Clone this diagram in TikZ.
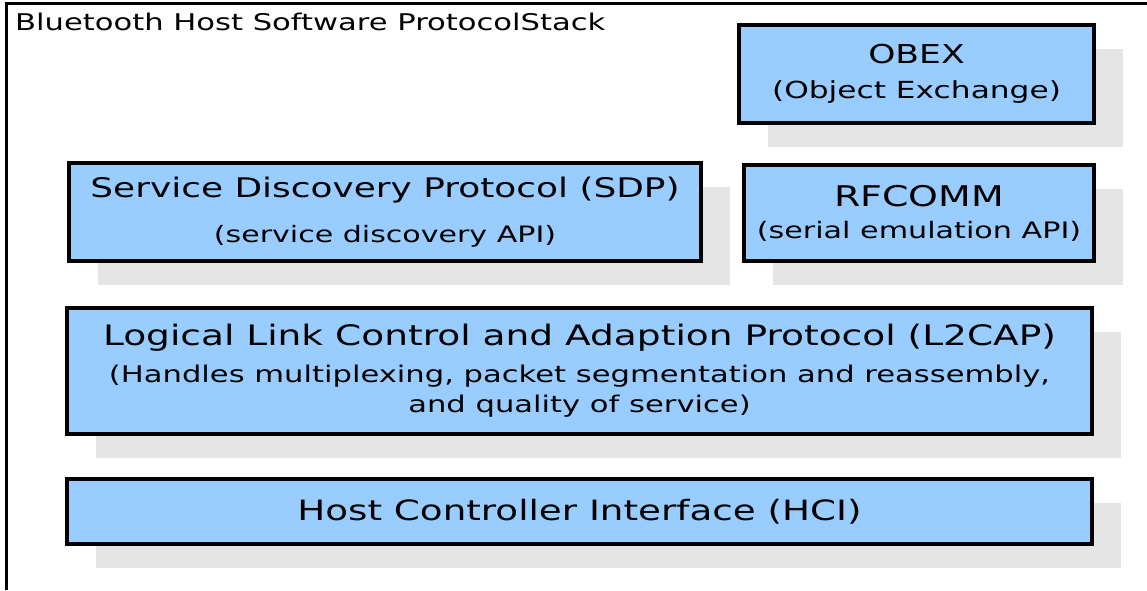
\documentclass[tikz,border=0pt]{standalone}
\usepackage{fontspec}
\setmainfont{DejaVu Sans}[FakeStretch=1.33]
\usetikzlibrary{shadows}
\definecolor{layerblue}{RGB}{153,204,255}
\definecolor{shadegray}{RGB}{229,229,229}

\begin{document}
\begin{tikzpicture}[x=1pt, y=-1pt,
  layer/.style={draw=black, line width=3.5pt, fill=layerblue, inner sep=0pt,
    align=center,
    drop shadow={shadow xshift=28.5pt, shadow yshift=-24pt, opacity=1, fill=shadegray}}]
  \useasboundingbox (0,0) rectangle (1147,590);
  % the frame
  \draw[line width=3pt] (6,590) -- (6,3.5) -- (1147,3.5);
  \node[anchor=base west, inner sep=0pt, font=\fontsize{23}{23}\selectfont] (title) at (15,30)
    {Bluetooth Host Software ProtocolStack};
  % the upper layers
  \node[layer, minimum width=355pt, minimum height=98pt, font=\fontsize{26}{35}\selectfont]
    (obex) at (916.5,74) {OBEX\\{\fontsize{23.5}{35}\selectfont (Object Exchange)}};
  \node[layer, minimum width=632pt, minimum height=98pt, font=\fontsize{27}{45}\selectfont]
    (sdp) at (385,212) {Service Discovery Protocol (SDP)\\{\fontsize{22.6}{45}\selectfont (service discovery API)}};
  \node[layer, minimum width=350pt, minimum height=96pt, font=\fontsize{28.5}{32}\selectfont]
    (rfcomm) at (919,213) {RFCOMM\\{\fontsize{22.7}{32}\selectfont (serial emulation API)}};
  % the lower layers
  \node[layer, minimum width=1025pt, minimum height=126pt, font=\fontsize{28.2}{37}\selectfont]
    (l2cap) at (579.5,371) {Logical Link Control and Adaption Protocol (L2CAP)\\
      {\fontsize{23}{37}\selectfont (Handles multiplexing, packet segmentation and reassembly,}\\[-7pt]
      {\fontsize{23}{37}\selectfont and quality of service)}};
  \node[layer, minimum width=1025pt, minimum height=65pt, font=\fontsize{28}{28}\selectfont]
    (hci) at (579.5,511.5) {Host Controller Interface (HCI)};
\end{tikzpicture}
\end{document}
